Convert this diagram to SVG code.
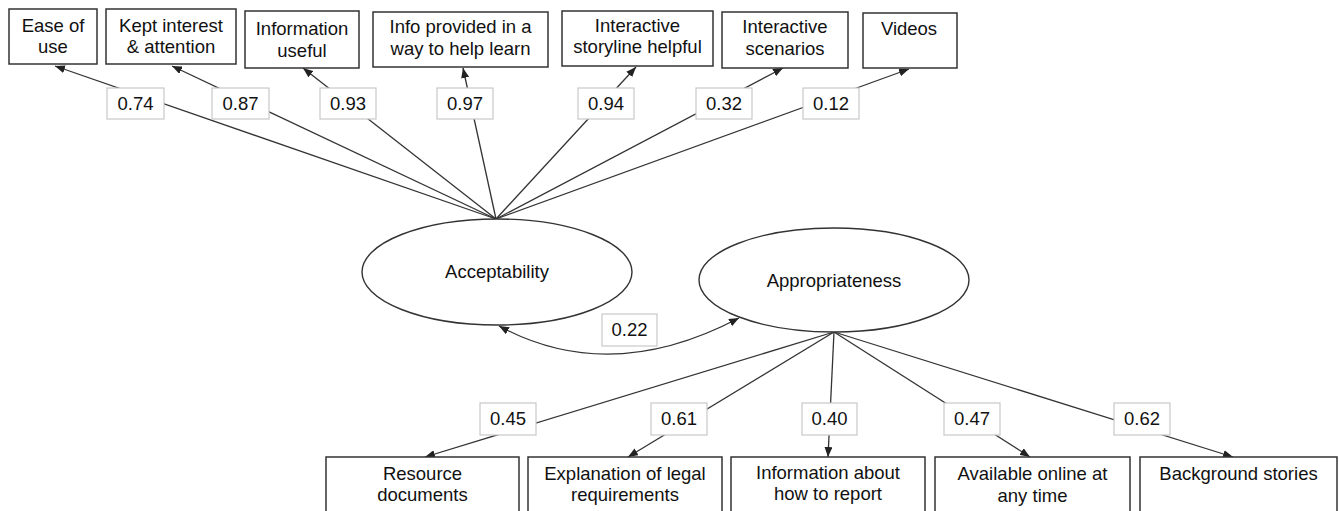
<svg xmlns="http://www.w3.org/2000/svg" width="1339" height="511" viewBox="0 0 1339 511">
<defs>
<marker id="arr" markerUnits="userSpaceOnUse" markerWidth="10" markerHeight="8" refX="10" refY="4" orient="auto-start-reverse">
<path d="M0,0 L10,4 L0,8 z" fill="#222"/>
</marker>
<style>
.box{fill:#fff;stroke:#333;stroke-width:1.5}
.lbl{fill:#fff;stroke:#c8c8c8;stroke-width:1.2}
.ell{fill:#fff;stroke:#333;stroke-width:1.4}
.t{font-family:"Liberation Sans",Arial,sans-serif;font-size:18.5px;fill:#111;text-anchor:middle}
.c{fill:none;stroke:#333;stroke-width:1.3;marker-end:url(#arr)}
</style>
</defs>
<rect width="1339" height="511" fill="#fff"/>
<g id="connectors">
<line class="c" x1="496" y1="219" x2="55" y2="66"/>
<line class="c" x1="496" y1="219" x2="172" y2="66"/>
<line class="c" x1="496" y1="219" x2="303" y2="68"/>
<line class="c" x1="496" y1="219" x2="463" y2="68"/>
<line class="c" x1="496" y1="219" x2="636" y2="67"/>
<line class="c" x1="496" y1="219" x2="783" y2="68"/>
<line class="c" x1="496" y1="219" x2="909" y2="69"/>
<line class="c" x1="834" y1="332" x2="425" y2="457"/>
<line class="c" x1="834" y1="332" x2="628" y2="457"/>
<line class="c" x1="834" y1="332" x2="828" y2="457"/>
<line class="c" x1="834" y1="332" x2="1030" y2="457"/>
<line class="c" x1="834" y1="332" x2="1233" y2="457"/>
<path class="c" d="M499,326 Q610,386 739,318" style="marker-start:url(#arr)"/>
</g>
<g id="n-ease"><rect class="box" x="9" y="9" width="88" height="55"/><text class="t" x="53" y="32">Ease of</text><text class="t" x="53" y="53">use</text></g>
<g id="n-kept"><rect class="box" x="106" y="9" width="130" height="55"/><text class="t" x="171" y="32">Kept interest</text><text class="t" x="171" y="53">&amp; attention</text></g>
<g id="n-infouseful"><rect class="box" x="245" y="11" width="114" height="57"/><text class="t" x="302" y="35">Information</text><text class="t" x="302" y="57">useful</text></g>
<g id="n-infoprovided"><rect class="box" x="373" y="12" width="175" height="55"/><text class="t" x="460.5" y="33">Info provided in a</text><text class="t" x="460.5" y="55">way to help learn</text></g>
<g id="n-storyline"><rect class="box" x="562" y="11" width="151" height="55"/><text class="t" x="637.5" y="32">Interactive</text><text class="t" x="637.5" y="53">storyline helpful</text></g>
<g id="n-scenarios"><rect class="box" x="722" y="12" width="126" height="56"/><text class="t" x="785" y="33">Interactive</text><text class="t" x="785" y="55">scenarios</text></g>
<g id="n-videos"><rect class="box" x="863" y="13" width="94" height="55"/><text class="t" x="909" y="35">Videos</text></g>
<g id="labels-top">
<rect class="lbl" x="107" y="88" width="57" height="31"/><text class="t" x="135.5" y="110">0.74</text>
<rect class="lbl" x="212" y="88" width="57" height="31"/><text class="t" x="240.5" y="110">0.87</text>
<rect class="lbl" x="320" y="88" width="56" height="31"/><text class="t" x="348" y="110">0.93</text>
<rect class="lbl" x="437" y="88" width="56" height="31"/><text class="t" x="465" y="110">0.97</text>
<rect class="lbl" x="578" y="88" width="56" height="31"/><text class="t" x="606" y="110">0.94</text>
<rect class="lbl" x="696" y="88" width="56" height="31"/><text class="t" x="724" y="110">0.32</text>
<rect class="lbl" x="803" y="88" width="56" height="31"/><text class="t" x="831" y="110">0.12</text>
</g>
<g id="n-acceptability"><ellipse class="ell" cx="497" cy="272" rx="135" ry="53"/><text class="t" x="497" y="278">Acceptability</text></g>
<g id="n-appropriateness"><ellipse class="ell" cx="834" cy="280" rx="135" ry="52"/><text class="t" x="834" y="287">Appropriateness</text></g>
<g id="label-corr"><rect class="lbl" x="602" y="314" width="55" height="32"/><text class="t" x="629.5" y="336">0.22</text></g>
<g id="labels-bottom">
<rect class="lbl" x="480" y="403" width="56" height="32"/><text class="t" x="508" y="425">0.45</text>
<rect class="lbl" x="651" y="403" width="56" height="32"/><text class="t" x="679" y="425">0.61</text>
<rect class="lbl" x="802" y="403" width="55" height="32"/><text class="t" x="829.5" y="425">0.40</text>
<rect class="lbl" x="944" y="403" width="56" height="32"/><text class="t" x="972" y="425">0.47</text>
<rect class="lbl" x="1114" y="403" width="56" height="32"/><text class="t" x="1142" y="425">0.62</text>
</g>
<g id="n-resource"><rect class="box" x="326" y="457" width="193" height="70"/><text class="t" x="422.5" y="480">Resource</text><text class="t" x="422.5" y="501">documents</text></g>
<g id="n-legal"><rect class="box" x="528" y="457" width="194" height="70"/><text class="t" x="625" y="480">Explanation of legal</text><text class="t" x="625" y="501">requirements</text></g>
<g id="n-report"><rect class="box" x="731" y="457" width="194" height="70"/><text class="t" x="828" y="479">Information about</text><text class="t" x="828" y="500">how to report</text></g>
<g id="n-online"><rect class="box" x="935" y="457" width="195" height="70"/><text class="t" x="1032.5" y="480">Available online at</text><text class="t" x="1032.5" y="502">any time</text></g>
<g id="n-background"><rect class="box" x="1140" y="457" width="197" height="70"/><text class="t" x="1238.5" y="480">Background stories</text></g>
</svg>
